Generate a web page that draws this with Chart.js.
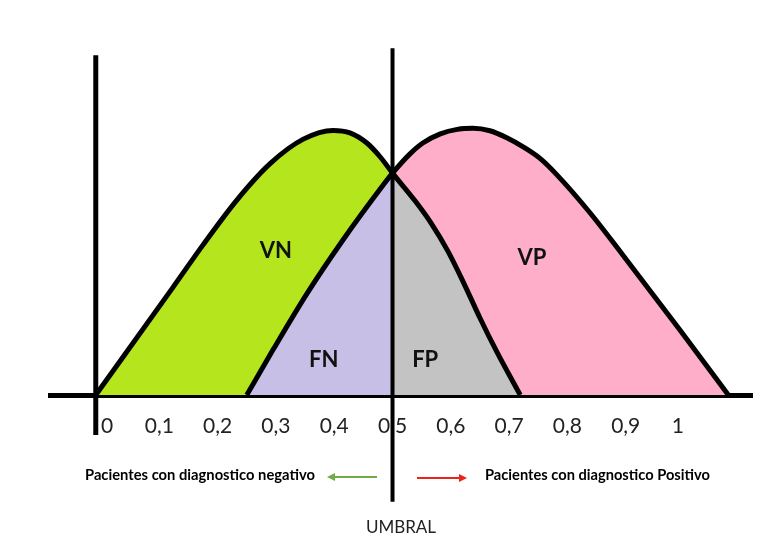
<!DOCTYPE html>
<html><head><meta charset="utf-8">
<script src="https://cdn.jsdelivr.net/npm/chart.js@4"></script>
<style>html,body{margin:0;padding:0;background:#fff;} canvas{display:block;}</style>
</head><body>
<canvas id="c" width="774" height="543"></canvas>
<script>
// ---- data ----
const tickValues = [0, 0.1, 0.2, 0.3, 0.4, 0.5, 0.6, 0.7, 0.8, 0.9, 1];
const tickLabels = ['0', '0,1', '0,2', '0,3', '0,4', '0,5', '0,6', '0,7', '0,8', '0,9', '1'];

// Pacientes sanos (curva izquierda)
const negX = [-0.009, 0.124, 0.175, 0.233, 0.290, 0.347, 0.398, 0.427, 0.456, 0.479, 0.5, 0.539, 0.567, 0.595, 0.623, 0.650, 0.679, 0.719];
const negY = [0, 0.309, 0.429, 0.557, 0.661, 0.731, 0.756, 0.749, 0.720, 0.680, 0.634, 0.554, 0.489, 0.411, 0.317, 0.220, 0.123, 0];

// Pacientes enfermos (curva derecha)
const posX = [0.250, 0.295, 0.353, 0.415, 0.484, 0.5, 0.530, 0.552, 0.582, 0.611, 0.638, 0.667, 0.696, 0.724, 0.753, 0.782, 0.839, 0.895, 0.993, 1.076];
const posY = [0, 0.129, 0.289, 0.443, 0.600, 0.634, 0.689, 0.720, 0.746, 0.759, 0.762, 0.755, 0.735, 0.709, 0.676, 0.629, 0.520, 0.400, 0.186, 0];

const umbral = 0.5;

const regionLabels = ['VN', 'FN', 'FP', 'VP'];
const regionX = [0.300, 0.382, 0.556, 0.739];
const regionY = [0.411, 0.101, 0.100, 0.391];

const legendNeg = 'Pacientes con diagnostico negativo';
const legendPos = 'Pacientes con diagnostico Positivo';
const umbralText = 'UMBRAL';

// ---- styles ----
const GREEN = '#B5E61D', PINK = '#FFAEC9', LAVENDER = '#C8BFE7', GREY = '#C3C3C3', NONE = 'rgba(0,0,0,0)';
const pts = (xs, ys) => xs.map((x, i) => ({ x: x, y: ys[i] }));
const leftOf = (ctx) => ctx.p0.parsed.x < umbral;

const overlay = {
  id: 'overlay',
  afterDraw(chart) {
    const { ctx } = chart;
    const x = chart.scales.x, y = chart.scales.y;
    ctx.save();
    ctx.strokeStyle = '#000';
    ctx.lineCap = 'butt';
    // eje vertical
    ctx.lineWidth = 5;
    const ax = x.getPixelForValue(-0.009);
    ctx.beginPath(); ctx.moveTo(ax, y.getPixelForValue(0.971)); ctx.lineTo(ax, y.getPixelForValue(-0.114)); ctx.stroke();
    // umbral
    ctx.lineWidth = 4;
    const tx = x.getPixelForValue(umbral);
    ctx.beginPath(); ctx.moveTo(tx, y.getPixelForValue(0.991)); ctx.lineTo(tx, y.getPixelForValue(-0.305)); ctx.stroke();

    // region labels
    ctx.fillStyle = '#111';
    ctx.font = 'bold 22px Lato';
    ctx.textAlign = 'center';
    ctx.textBaseline = 'middle';
    regionLabels.forEach((t, i) => ctx.fillText(t, x.getPixelForValue(regionX[i]), y.getPixelForValue(regionY[i])));

    // legend texts
    const fitFont = (text, width, weight) => {
      ctx.font = weight + ' 100px Lato';
      const w = ctx.measureText(text).width;
      return weight + ' ' + (100 * width / w).toFixed(2) + 'px Lato';
    };
    ctx.textAlign = 'left';
    ctx.textBaseline = 'alphabetic';
    ctx.fillStyle = '#000';
    ctx.font = fitFont(legendNeg, 230, 'bold');
    ctx.fillText(legendNeg, 85, 480);
    ctx.font = fitFont(legendPos, 225, 'bold');
    ctx.fillText(legendPos, 485, 480);

    // arrows
    const arrow = (x1, x2, yy, color) => {
      ctx.strokeStyle = color; ctx.fillStyle = color; ctx.lineWidth = 2;
      const dir = Math.sign(x2 - x1);
      ctx.beginPath(); ctx.moveTo(x1, yy); ctx.lineTo(x2 - dir * 6, yy); ctx.stroke();
      ctx.beginPath(); ctx.moveTo(x2, yy); ctx.lineTo(x2 - dir * 8, yy - 4); ctx.lineTo(x2 - dir * 8, yy + 4); ctx.closePath(); ctx.fill();
    };
    arrow(377, 327, 477, '#70AD47');
    arrow(417, 467, 478, '#E8251C');

    // UMBRAL
    ctx.fillStyle = '#222';
    ctx.font = '17px Lato';
    ctx.textAlign = 'center';
    ctx.fillText(umbralText, 401, 533);
    ctx.restore();
  }
};

const common = { pointRadius: 0, cubicInterpolationMode: 'monotone', fill: 'origin' };

new Chart(document.getElementById('c'), {
  type: 'line',
  data: {
    datasets: [
      Object.assign({
        label: 'Sanos (borde, FP)',
        data: pts(negX, negY),
        borderColor: '#000', borderWidth: 5,
        backgroundColor: GREY,
        segment: { backgroundColor: (c) => leftOf(c) ? NONE : GREY }
      }, common),
      Object.assign({
        label: 'Enfermos (FN, VP)',
        data: pts(posX, posY),
        borderColor: '#000', borderWidth: 5,
        backgroundColor: PINK,
        segment: { backgroundColor: (c) => leftOf(c) ? LAVENDER : PINK }
      }, common),
      Object.assign({
        label: 'Sanos (VN)',
        data: pts(negX, negY),
        borderColor: NONE, borderWidth: 0,
        backgroundColor: GREEN,
        segment: { backgroundColor: (c) => leftOf(c) ? GREEN : GREY }
      }, common)
    ]
  },
  options: {
    responsive: false,
    animation: false,
    devicePixelRatio: 1,
    layout: { padding: { left: 50, right: 22, top: 45, bottom: 0 } },
    plugins: {
      legend: { display: false },
      tooltip: { enabled: false },
      filler: { drawTime: 'beforeDatasetsDraw' }
    },
    scales: {
      x: {
        type: 'linear',
        min: -0.0875, max: 1.1166,
        z: 1,
        grid: { display: false, drawTicks: false },
        border: { display: true, color: '#000', width: 5 },
        afterBuildTicks: (s) => { s.ticks = tickValues.map(v => ({ value: v })); },
        afterFit: (s) => { s.height = 148; },
        ticks: {
          autoSkip: false, maxRotation: 0, padding: 19, align: 'inner',
          color: '#222',
          font: { family: 'Lato', size: 21 },
          callback: (v, i) => tickLabels[i]
        }
      },
      y: {
        type: 'linear', min: 0, max: 1, display: false
      }
    }
  },
  plugins: [overlay]
});
</script>
</body></html>
